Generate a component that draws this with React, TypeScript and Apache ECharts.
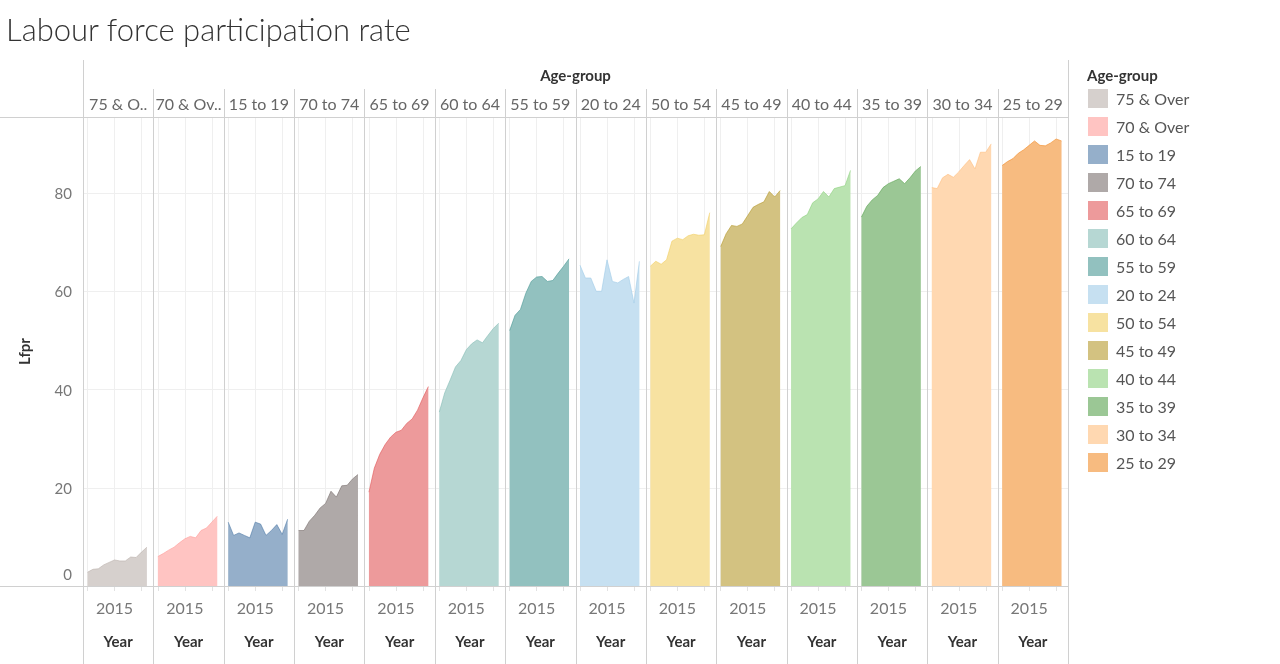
import React, { useEffect, useRef } from "react";
import * as echarts from "echarts";

const YEARS = [2010, 2011, 2012, 2013, 2014, 2015, 2016, 2017, 2018, 2019, 2020, 2021];

const GROUPS = [
  "75 & Over", "70 & Over", "15 to 19", "70 to 74", "65 to 69", "60 to 64", "55 to 59",
  "20 to 24", "50 to 54", "45 to 49", "40 to 44", "35 to 39", "30 to 34", "25 to 29",
];
const HEADER_LABELS = [
  "75 & O..", "70 & Ov..", "15 to 19", "70 to 74", "65 to 69", "60 to 64", "55 to 59",
  "20 to 24", "50 to 54", "45 to 49", "40 to 44", "35 to 39", "30 to 34", "25 to 29",
];
const BASE_COLORS = [
  "#BAB0AC", "#FF9D9A", "#4E79A7", "#79706E", "#E15759", "#86BCB6", "#499894",
  "#A0CBE8", "#F1CE63", "#B6992D", "#8CD17D", "#59A14F", "#FFBE7D", "#F28E2B",
];

const v75Over = [2.8, 3.4, 3.5, 4.3, 4.8, 5.3, 5.1, 5.1, 5.9, 5.8, 6.9, 7.9];
const v70Over = [6.0, 6.6, 7.3, 7.9, 8.8, 9.6, 10.1, 9.8, 11.3, 11.8, 13.0, 14.2];
const v15to19 = [13.0, 10.3, 10.8, 10.3, 9.8, 13.0, 12.6, 10.3, 11.3, 12.5, 10.5, 13.6];
const v70to74 = [11.3, 11.3, 13.2, 14.4, 15.9, 16.8, 19.3, 18.1, 20.4, 20.5, 21.8, 22.7];
const v65to69 = [19.1, 24.0, 26.8, 28.8, 30.3, 31.3, 31.7, 33.1, 34.0, 35.8, 38.3, 40.6];
const v60to64 = [35.4, 39.3, 41.9, 44.6, 45.9, 48.1, 49.3, 50.1, 49.5, 51.0, 52.4, 53.5];
const v55to59 = [52.0, 55.1, 56.3, 59.6, 62.0, 62.9, 63.0, 62.0, 62.2, 63.7, 65.1, 66.6];
const v20to24 = [65.3, 62.7, 62.7, 60.0, 60.0, 66.4, 62.0, 61.7, 62.4, 63.0, 57.6, 66.1];
const v50to54 = [65.1, 66.1, 65.5, 66.4, 70.2, 70.8, 70.5, 71.3, 71.6, 71.4, 71.5, 76.0];
const v45to49 = [69.1, 71.7, 73.4, 73.2, 73.7, 75.4, 77.1, 77.7, 78.2, 80.3, 79.2, 80.5];
const v40to44 = [72.7, 73.9, 75.0, 75.6, 78.0, 78.8, 80.3, 79.2, 80.9, 81.2, 81.5, 84.6];
const v35to39 = [75.1, 77.3, 78.6, 79.5, 81.1, 81.9, 82.4, 82.9, 81.9, 83.1, 84.5, 85.4];
const v30to34 = [81.1, 80.9, 83.1, 83.8, 83.2, 84.3, 85.6, 86.8, 84.9, 88.3, 88.3, 90.0];
const v25to29 = [85.6, 86.4, 87.0, 88.1, 88.8, 89.7, 90.6, 89.7, 89.6, 90.2, 91.0, 90.6];

const VALUES = [
  v75Over, v70Over, v15to19, v70to74, v65to69, v60to64, v55to59,
  v20to24, v50to54, v45to49, v40to44, v35to39, v30to34, v25to29,
];

const Y_TICKS = [0, 20, 40, 60, 80];
const X_TICKS = [2010, 2015, 2020];
const X_LABELS = [2015];

const FONT = "Lato, 'Noto Sans', sans-serif";

function blend(hex: string, a: number) {
  const n = parseInt(hex.slice(1), 16);
  const r = (n >> 16) & 255, g = (n >> 8) & 255, b = n & 255;
  const f = (c: number) => Math.round(255 - (255 - c) * a).toString(16).padStart(2, "0");
  return "#" + f(r) + f(g) + f(b);
}

export default function App() {
  const ref = useRef<HTMLDivElement>(null);
  useEffect(() => {
    if (!ref.current) return;
    const chart = echarts.init(ref.current, undefined, { renderer: "svg" });
    const PL = 83, PR = 1068, TOP = 117, BOTTOM = 586;
    const PW = (PR - PL) / GROUPS.length;
    const PX_PER_YEAR = 5.4;
    const xMin = YEARS[0] - 4.5 / PX_PER_YEAR;
    const xMax = xMin + PW / PX_PER_YEAR;
    const lineColor = "#d0d0d0";
    const gridColor = "#efefef";

    const grids: any[] = [], xAxes: any[] = [], yAxes: any[] = [], series: any[] = [];
    const graphics: any[] = [];
    GROUPS.forEach((g, i) => {
      const left = PL + i * PW;
      grids.push({ left, top: TOP, width: PW, height: BOTTOM - TOP, containLabel: false });
      xAxes.push({
        type: "value", gridIndex: i, min: xMin, max: xMax,
        axisLine: { show: false },
        axisTick: { show: true, customValues: X_TICKS, length: 5, lineStyle: { color: "#e2e2e2" } },
        axisLabel: { customValues: X_LABELS, color: "#777", fontSize: 16, fontFamily: FONT, margin: 13, formatter: (v: number) => String(v) },
        splitLine: { show: true, lineStyle: { color: gridColor, width: 1 } },
        name: "Year", nameLocation: "middle", nameGap: 47,
        nameTextStyle: { color: "#333", fontSize: 15, fontWeight: "bold", fontFamily: FONT },
      });
      yAxes.push({
        type: "value", gridIndex: i, min: 0, max: (BOTTOM - TOP) / 4.9125,
        axisLine: { show: false },
        axisTick: { show: false, customValues: Y_TICKS },
        axisLabel: {
          show: i === 0, customValues: Y_TICKS, color: "#777", fontSize: 15, fontFamily: FONT, margin: 11,
          formatter: (v: number) => (v === 0 ? "{z|0}" : String(v)),
          rich: { z: { color: "#777", fontSize: 15, fontFamily: FONT, padding: [0, 0, 24, 0] } },
        },
        splitLine: { show: true, lineStyle: { color: gridColor, width: 1 } },
        name: i === 0 ? "Lfpr" : "", nameLocation: "middle", nameGap: 52, nameRotate: 90,
        nameTextStyle: { color: "#333", fontSize: 15, fontWeight: "bold", fontFamily: FONT },
      });
      const fill = blend(BASE_COLORS[i], 0.6);
      series.push({
        name: g, type: "line", xAxisIndex: i, yAxisIndex: i, symbol: "none",
        data: YEARS.map((y, k) => [y, VALUES[i][k]]),
        itemStyle: { color: fill },
        lineStyle: { color: BASE_COLORS[i], width: 1, opacity: 0.6 },
        areaStyle: { color: fill, opacity: 1 },
        silent: true,
      });
      graphics.push({
        type: "text", x: left + PW / 2, y: 103,
        style: { text: HEADER_LABELS[i], fill: "#666", fontSize: 16, fontFamily: FONT, align: "center", verticalAlign: "middle" },
      });
    });
    for (let i = 0; i <= GROUPS.length; i++) {
      const x = Math.round(PL + i * PW) + 0.5;
      const top = i === 0 || i === GROUPS.length ? 60 : 89;
      graphics.push({ type: "line", shape: { x1: x, y1: top, x2: x, y2: 664 }, style: { stroke: lineColor, lineWidth: 1 }, z: 10 });
    }
    graphics.push({ type: "line", shape: { x1: 0, y1: TOP + 0.5, x2: PR, y2: TOP + 0.5 }, style: { stroke: lineColor, lineWidth: 1 }, z: 10 });
    graphics.push({ type: "line", shape: { x1: 0, y1: BOTTOM + 0.5, x2: PR, y2: BOTTOM + 0.5 }, style: { stroke: lineColor, lineWidth: 1 }, z: 10 });
    graphics.push({
      type: "text", x: (PL + PR) / 2, y: 75,
      style: { text: "Age-group", fill: "#333", fontSize: 15, fontWeight: "bold", fontFamily: FONT, align: "center", verticalAlign: "middle" },
    });
    graphics.push({
      type: "text", x: 1087, y: 75,
      style: { text: "Age-group", fill: "#333", fontSize: 15, fontWeight: "bold", fontFamily: FONT, align: "left", verticalAlign: "middle" },
    });

    chart.setOption({
      animation: false,
      title: {
        text: "Labour force participation rate", left: 1, top: 8,
        textStyle: { color: "#333", fontSize: 31, fontWeight: 300, fontFamily: FONT },
      },
      legend: {
        orient: "vertical", left: 1088, top: 89, padding: 0,
        itemWidth: 20, itemHeight: 19, itemGap: 9, icon: "rect", selectedMode: false,
        itemStyle: { borderWidth: 0 },
        textStyle: { color: "#555", fontSize: 16, fontFamily: FONT, padding: [0, 0, 0, 3] },
        data: GROUPS,
      },
      grid: grids, xAxis: xAxes, yAxis: yAxes, series, graphic: graphics,
    });
    return () => chart.dispose();
  }, []);
  return <div ref={ref} style={{ position: "fixed", left: 0, top: 0, width: 1280, height: 664 }} />;
}
